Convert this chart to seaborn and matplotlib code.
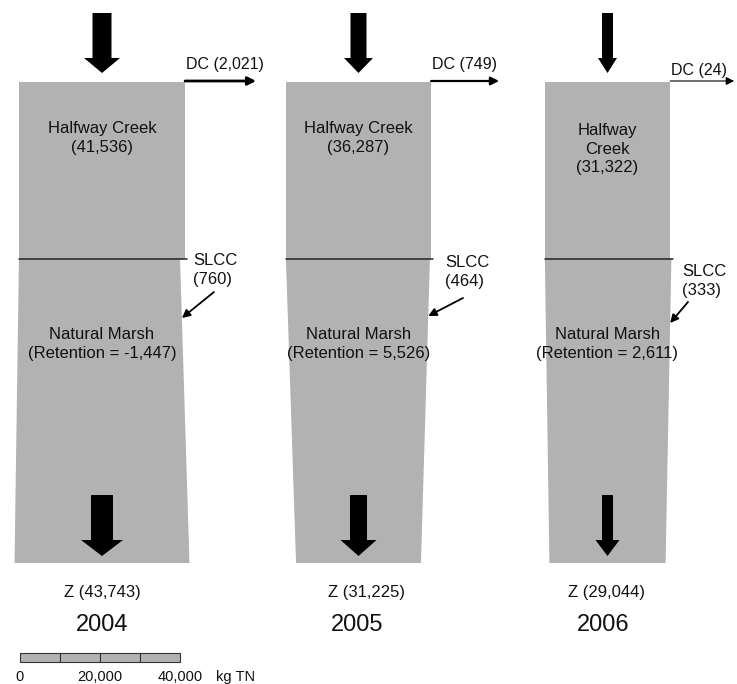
import matplotlib
matplotlib.use("Agg")
import matplotlib.pyplot as plt
from matplotlib.patches import Polygon, Rectangle
import seaborn as sns

# Annual total-nitrogen budget (kg TN) for the wetland system
years = ["2004", "2005", "2006"]
halfway_creek = [41536, 36287, 31322]
dc_outflow = [2021, 749, 24]
slcc_inflow = [760, 464, 333]
retention = [-1447, 5526, 2611]
z_outflow = [43743, 31225, 29044]
hc_names = ["Halfway Creek", "Halfway Creek", "Halfway\nCreek"]

# Scale bar
scale_ticks = [0, 20000, 40000]
scale_segment = 10000
scale_unit = "kg TN"

sns.set_theme(style="white")
plt.rcParams["font.family"] = ["Liberation Sans", "DejaVu Sans"]

# Layout: x axis in thousand kg (4 px per 1,000 kg), y axis in pixels from the top
PX = 4.0
W, H = 737, 684
col_center_px = [102, 358.5, 607.5]
TOP, MID, BOT = 82, 259, 563
GRAY = "#b2b2b2"

fig = plt.figure(figsize=(W / 100, H / 100), dpi=100)
ax = fig.add_axes([0, 0, 1, 1])
ax.set_xlim(0, W / PX)
ax.set_ylim(H, 0)
ax.axis("off")


def kk(v):
    return v / 1000.0


def px(p):
    return p / PX


def down_arrow(cx, shaft_px, head_px, y0, yh, y1):
    sw, hw = px(shaft_px) / 2, px(head_px) / 2
    pts = [(cx - sw, y0), (cx + sw, y0), (cx + sw, yh), (cx + hw, yh),
           (cx, y1), (cx - hw, yh), (cx - sw, yh)]
    ax.add_patch(Polygon(pts, closed=True, facecolor="black", edgecolor="none", zorder=4))


top_shaft = [19, 16, 11]
top_head = [36, 29, 19]
bot_shaft = [22, 17, 11]
bot_head = [42, 36, 24]
dc_lw = [2.0, 1.6, 0.8]
dc_len = [71, 68, 64]
dc_label_y = [64, 64, 70]
slcc_text_px = [193, 445, 682]
slcc_text_y = [270, 272, 281]
slcc_tail_px = [(214, 292), (463, 298), (688, 302)]
slcc_head_y = [318, 316, 323]
z_label_px = [102, 367, 607]
year_label_px = [102, 357, 603]

fs = 12
for i, yr in enumerate(years):
    c = px(col_center_px[i])
    w_hc = kk(halfway_creek[i])
    left = c - w_hc / 2
    right = c + w_hc / 2

    # Halfway Creek block
    ax.add_patch(Rectangle((left, TOP), w_hc, MID - TOP, facecolor=GRAY,
                           edgecolor="none", zorder=1))

    # Natural marsh block: inflow after DC loss plus SLCC, out to Z
    w_top = kk(halfway_creek[i] - dc_outflow[i] + slcc_inflow[i])
    w_bot = kk(z_outflow[i])
    marsh = [(left, MID), (left + w_top, MID), (c + w_bot / 2, BOT), (c - w_bot / 2, BOT)]
    ax.add_patch(Polygon(marsh, closed=True, facecolor=GRAY, edgecolor="none", zorder=1))

    # divider between the two blocks
    ax.plot([left, max(right, left + w_top) + px(2)], [MID, MID], color="#222222",
            lw=1.1, zorder=3)

    # inflow and outflow arrows
    down_arrow(c, top_shaft[i], top_head[i], 13, 58, 73)
    down_arrow(c, bot_shaft[i], bot_head[i], 495, 540, 556)

    # DC diversion arrow
    ax.annotate("", xy=(right + px(dc_len[i]), TOP - 1), xytext=(right, TOP - 1),
                arrowprops=dict(arrowstyle="-|>", lw=dc_lw[i], color="black",
                                mutation_scale=12, shrinkA=0, shrinkB=0),
                annotation_clip=False, zorder=4)
    ax.text(right + px(1), dc_label_y[i], f"DC ({dc_outflow[i]:,})", fontsize=11.5,
            ha="left", va="center", color="#111111")

    # labels inside blocks
    ax.text(c, 138 if "\n" not in hc_names[i] else 149,
            f"{hc_names[i]}\n({halfway_creek[i]:,})", fontsize=fs, ha="center",
            va="center", linespacing=1.3, color="#111111", zorder=5)
    ax.text(c, 344, f"Natural Marsh\n(Retention = {retention[i]:,})", fontsize=fs,
            ha="center", va="center", linespacing=1.3, color="#111111", zorder=5)

    # SLCC inflow
    ax.text(px(slcc_text_px[i]), slcc_text_y[i], f"SLCC\n({slcc_inflow[i]:,})",
            fontsize=fs, ha="left", va="center", multialignment="left",
            linespacing=1.3, color="#111111")
    hy = slcc_head_y[i]
    frac = (hy - MID) / (BOT - MID)
    edge_x = (left + w_top) + frac * ((c + w_bot / 2) - (left + w_top))
    ax.annotate("", xy=(edge_x, hy), xytext=(px(slcc_tail_px[i][0]), slcc_tail_px[i][1]),
                arrowprops=dict(arrowstyle="-|>", lw=1.3, color="black",
                                mutation_scale=12, shrinkA=0, shrinkB=0), zorder=4)

    # outflow and year labels
    ax.text(px(z_label_px[i]), 592, f"Z ({z_outflow[i]:,})", fontsize=fs,
            ha="center", va="center", color="#111111")
    ax.text(px(year_label_px[i]), 625, yr, fontsize=17, ha="center", va="center",
            color="#111111")

# scale bar
x0 = px(20)
for s in range(0, scale_ticks[-1], scale_segment):
    ax.add_patch(Rectangle((x0 + kk(s), 653), kk(scale_segment), 9, facecolor=GRAY,
                           edgecolor="#333333", lw=0.8, zorder=2))
for t in scale_ticks:
    ax.text(x0 + kk(t), 677, f"{t:,}", fontsize=10.5, ha="center", va="center",
            color="#111111")
ax.text(x0 + kk(scale_ticks[-1]) + px(36), 677, scale_unit, fontsize=10.5, ha="left",
        va="center", color="#111111")

fig.savefig("out.png", dpi=100, facecolor="white")
